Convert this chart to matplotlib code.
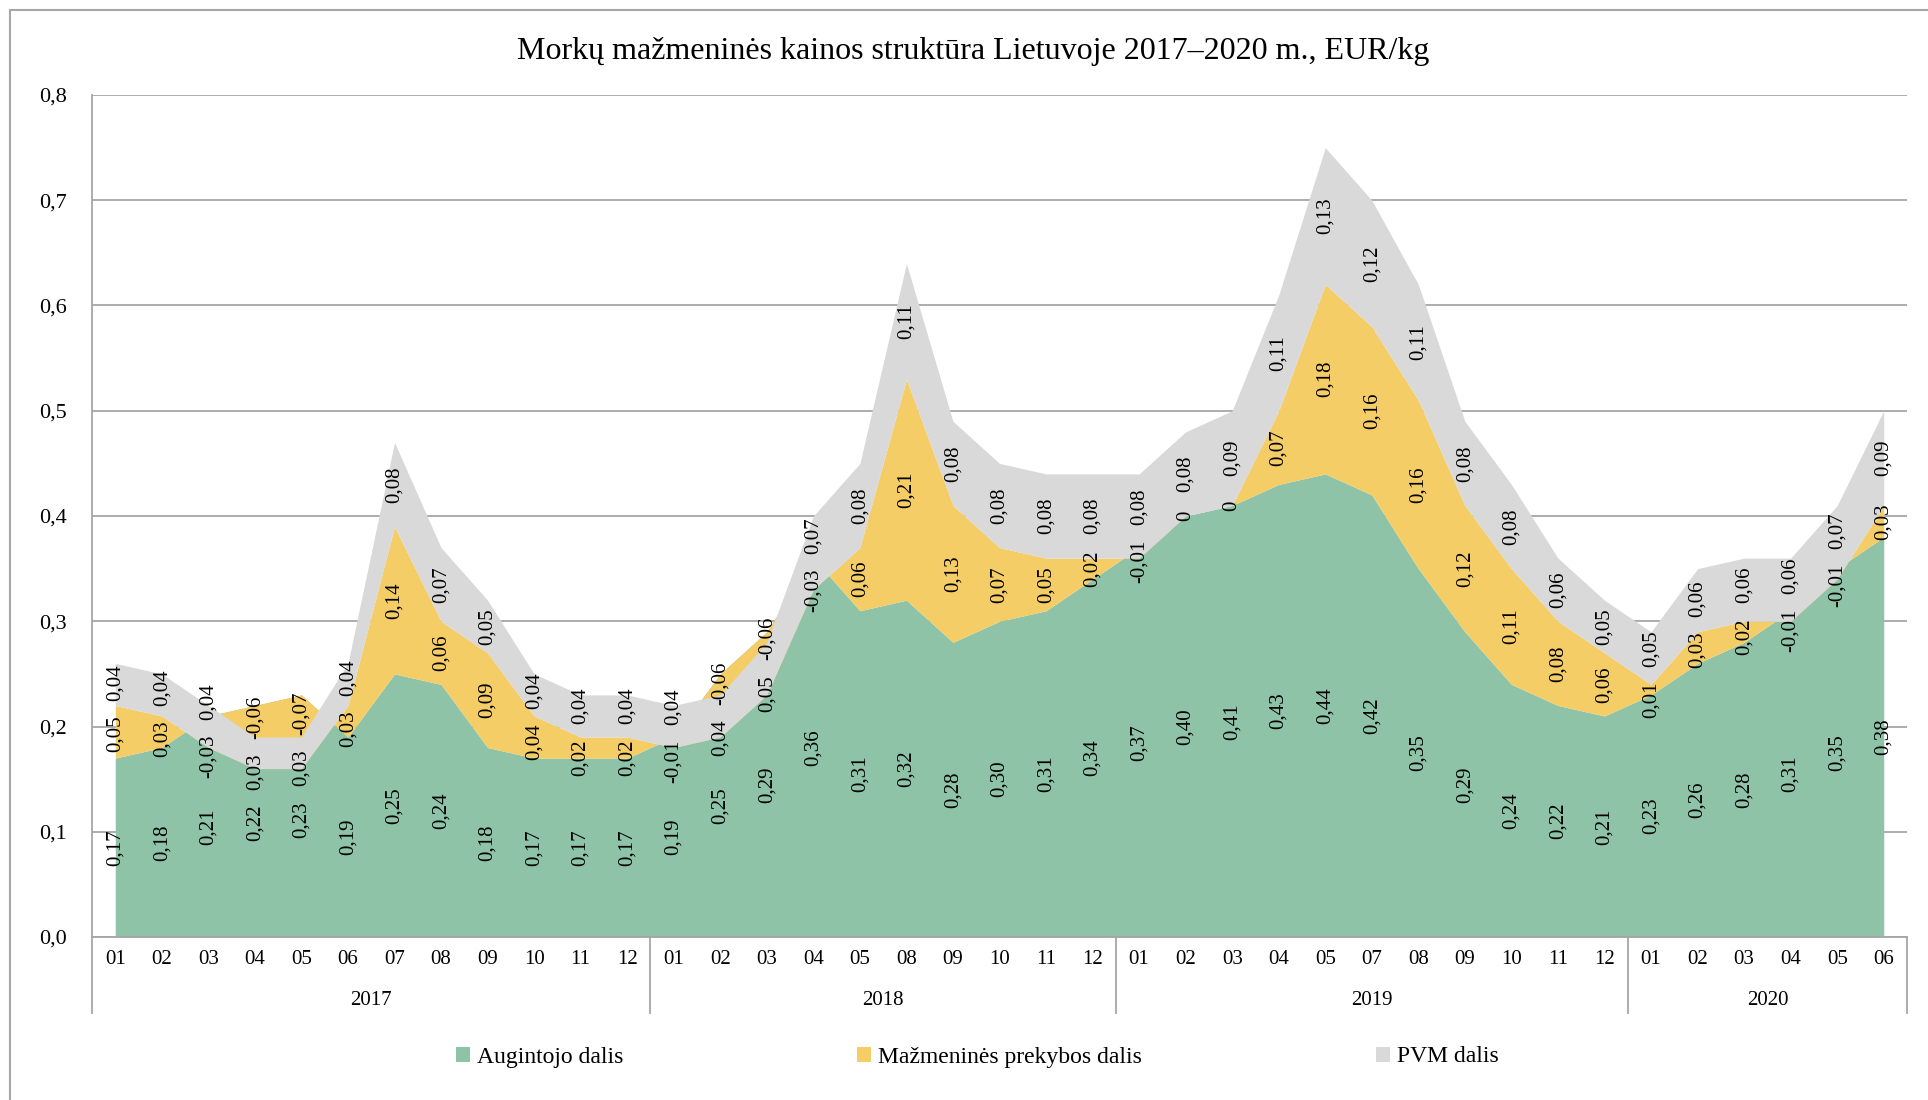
import matplotlib
matplotlib.use("Agg")
import matplotlib.pyplot as plt
from matplotlib.patches import Patch, Rectangle
import matplotlib.transforms as mtransforms
import numpy as np

plt.rcParams['font.family'] = ['Liberation Serif', 'DejaVu Serif']

# months shown on the axis, grouped by year
years = ['2017', '2018', '2019', '2020']
months = [
    ['01', '02', '03', '04', '05', '06', '07', '08', '09', '10', '11', '12'],
    ['01', '02', '03', '04', '05', '08', '09', '10', '11', '12'],
    ['01', '02', '03', '04', '05', '07', '08', '09', '10', '11', '12'],
    ['01', '02', '03', '04', '05', '06'],
]

# shares of retail price, EUR/kg
augintojo = [0.17, 0.18, 0.21, 0.22, 0.23, 0.19, 0.25, 0.24, 0.18, 0.17, 0.17, 0.17,
             0.19, 0.25, 0.29, 0.36, 0.31, 0.32, 0.28, 0.30, 0.31, 0.34,
             0.37, 0.40, 0.41, 0.43, 0.44, 0.42, 0.35, 0.29, 0.24, 0.22, 0.21,
             0.23, 0.26, 0.28, 0.31, 0.35, 0.38]
prekybos = [0.05, 0.03, -0.03, -0.06, -0.07, 0.03, 0.14, 0.06, 0.09, 0.04, 0.02, 0.02,
            -0.01, -0.06, -0.06, -0.03, 0.06, 0.21, 0.13, 0.07, 0.05, 0.02,
            -0.01, 0.0, 0.0, 0.07, 0.18, 0.16, 0.16, 0.12, 0.11, 0.08, 0.06,
            0.01, 0.03, 0.02, -0.01, -0.01, 0.03]
pvm = [0.04, 0.04, 0.04, 0.03, 0.03, 0.04, 0.08, 0.07, 0.05, 0.04, 0.04, 0.04,
       0.04, 0.04, 0.05, 0.07, 0.08, 0.11, 0.08, 0.08, 0.08, 0.08,
       0.08, 0.08, 0.09, 0.11, 0.13, 0.12, 0.11, 0.08, 0.08, 0.06, 0.05,
       0.05, 0.06, 0.06, 0.06, 0.07, 0.09]

series = [augintojo, prekybos, pvm]
names = ['Augintojo dalis', 'Mažmeninės prekybos dalis', 'PVM dalis']
colors = ['#8EC3A7', '#F5CD66', '#D9D9D9']

LABEL_FS = 15
UNITS_PER_PX = 0.8 / 842


def fmt(v):
    if v == 0:
        return '0'
    return f'{v:.2f}'.replace('.', ',')


def half_len(s):
    # rough length of a rotated label in data units (Times-like widths)
    em = sum(0.25 if c == ',' else 0.333 if c == '-' else 0.5 for c in s)
    return em * LABEL_FS * 100 / 72 * UNITS_PER_PX / 2


month_labels = [m for grp in months for m in grp]
x = np.arange(len(month_labels))

fig = plt.figure(figsize=(19.28, 11), dpi=100)
ax = fig.add_axes([92 / 1928, 1 - 937 / 1100, (1907 - 92) / 1928, (937 - 95) / 1100])

# excel-style stacking: each series sits on the running sum, negatives included
base = np.zeros(len(x))
centers = []
for vals, col in zip(series, colors):
    top = base + np.array(vals)
    ax.fill_between(x, base, top, color=col, linewidth=0, zorder=2)
    centers.append((base + top) / 2)
    base = top

# place labels at band centres, nudged apart where they would collide
gap = 0.014
for i in x:
    labs = [[centers[k][i], half_len(fmt(series[k][i])), fmt(series[k][i])] for k in range(3)]
    labs.sort(key=lambda l: l[0])
    for _ in range(20):
        moved = False
        for a, b in zip(labs[:-1], labs[1:]):
            need = a[1] + b[1] + gap
            if b[0] - a[0] < need - 1e-9:
                d = (need - (b[0] - a[0])) / 2
                a[0] -= d
                b[0] += d
                moved = True
        if not moved:
            break
    for c, _, txt in labs:
        ax.text(i, c, txt, rotation=90, ha='center', va='center', fontsize=LABEL_FS,
                zorder=5, rotation_mode='anchor')

ax.set_xlim(-0.5, len(x) - 0.5)
ax.set_ylim(0, 0.8)
yt = np.arange(0, 0.81, 0.1)
ax.set_yticks(yt)
ax.set_yticklabels([f'{t:.1f}'.replace('.', ',') for t in yt], fontsize=16)
ax.set_xticks(x)
ax.set_xticklabels(month_labels, fontsize=15)
ax.tick_params(axis='x', length=0, pad=9)
ax.tick_params(axis='y', length=0, pad=18)
ax.yaxis.grid(True, color='#A6A6A6', linewidth=1.3, zorder=0)
ax.set_axisbelow(True)
for s in ['top', 'right']:
    ax.spines[s].set_visible(False)
for s in ['left', 'bottom']:
    ax.spines[s].set_color('#A6A6A6')
    ax.spines[s].set_linewidth(1.3)

# second level of the category axis: years
trans = mtransforms.blended_transform_factory(ax.transData, ax.transAxes)
edges = np.cumsum([0] + [len(g) for g in months]) - 0.5
for e in edges:
    ax.plot([e, e], [0, -0.0905], transform=trans, color='#A6A6A6', linewidth=1.3, clip_on=False)
for i, yr in enumerate(years):
    ax.text((edges[i] + edges[i + 1]) / 2, -0.075, yr, transform=trans, ha='center', va='center',
            fontsize=15)

fig.text(0.505, 1 - 52 / 1100, 'Morkų mažmeninės kainos struktūra Lietuvoje 2017–2020 m., EUR/kg',
         fontsize=23, ha='center', va='center')

handles = [Patch(facecolor=c, edgecolor='none') for c in colors]
fig.legend(handles, names, loc='center', bbox_to_anchor=(0.507, 1 - 1057 / 1100), ncol=3,
           frameon=False, fontsize=17, handlelength=0.6, handleheight=0.6, handletextpad=0.3,
           columnspacing=9.9)

# outer chart border
fig.patches.append(Rectangle((10 / 1928, -0.1), 1.2, 1 - 10 / 1100 + 0.1, transform=fig.transFigure,
                             fill=False, edgecolor='#A6A6A6', linewidth=1.5))

fig.savefig('out.png', dpi=100)
